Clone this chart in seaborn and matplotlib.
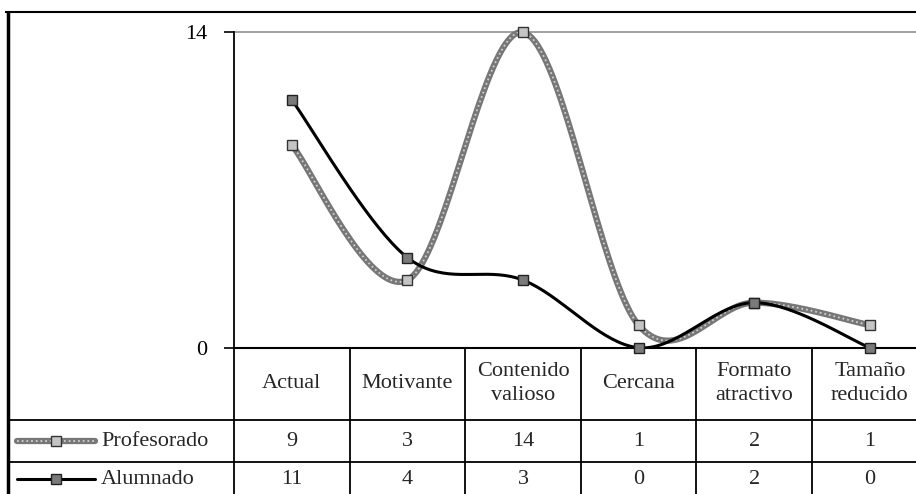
import numpy as np
import pandas as pd
import matplotlib
matplotlib.use("Agg")
import matplotlib.pyplot as plt
import seaborn as sns

# -----------------------------
# Data
# -----------------------------
categories = ["Actual", "Motivante", "Contenido\nvalioso", "Cercana",
              "Formato\natractivo", "Tamaño\nreducido"]
profesorado = [9, 3, 14, 1, 2, 1]
alumnado = [11, 4, 3, 0, 2, 0]
series_names = ["Profesorado", "Alumnado"]
y_ticks = [0, 14]

sns.set_style("white")
plt.rcParams["font.family"] = ["Liberation Serif", "DejaVu Serif"]
FS = 16


def smooth(vals, n=40):
    # Excel-like smoothed line (Catmull-Rom as cubic Bezier)
    p = np.asarray(vals, float)
    xs, ys = [], []
    t = np.linspace(0, 1, n)[:, None]
    for i in range(len(p) - 1):
        i0, i3 = max(i - 1, 0), min(i + 2, len(p) - 1)
        P = np.array([[i, p[i]],
                      [i + (i + 1 - i0) / 6, p[i] + (p[i + 1] - p[i0]) / 6],
                      [i + 1 - (i3 - i) / 6, p[i + 1] - (p[i3] - p[i]) / 6],
                      [i + 1, p[i + 1]]])
        b = ((1 - t) ** 3 * P[0] + 3 * (1 - t) ** 2 * t * P[1]
             + 3 * (1 - t) * t ** 2 * P[2] + t ** 3 * P[3])
        xs.extend(b[:, 0]); ys.extend(b[:, 1])
    return np.array(xs), np.array(ys)


# -----------------------------
# Layout (pixels)
# -----------------------------
W, H = 916, 494
col_w = 115.6
x0 = 234
y_top, y_zero, y_14 = 12, 347.7, 32.3
ymax = 14 * (y_zero - y_top) / (y_zero - y_14)

fig = plt.figure(figsize=(W / 100, H / 100), dpi=100)

bg = fig.add_axes([0, 0, 1, 1])
bg.set_xlim(0, W)
bg.set_ylim(H, 0)
bg.axis("off")

ax = fig.add_axes([x0 / W, 1 - y_zero / H, 6 * col_w / W, (y_zero - y_top) / H])
tab = fig.add_axes([x0 / W, 0, 6 * col_w / W, 1 - y_zero / H])
for a in (ax, tab):
    a.patch.set_alpha(0)

PROF_BASE, PROF_DOT = "#777777", "#cfcfcf"

# -----------------------------
# Lines
# -----------------------------
xp, yp = smooth(profesorado)
xa, ya = smooth(alumnado)
sns.lineplot(x=xp, y=yp, sort=False, estimator=None, ax=ax,
             color=PROF_BASE, lw=4.5, zorder=3)
ax.plot(xp, yp, color=PROF_DOT, lw=1.3, ls=(0, (1, 1.6)), zorder=3)
sns.lineplot(x=xa, y=ya, sort=False, estimator=None, ax=ax,
             color="black", lw=2.2, zorder=4)
idx = np.arange(len(categories))
ax.plot(idx, profesorado, ls="none", marker="s", ms=6.5,
        mfc="#c4c4c4", mec="#333333", mew=1, zorder=5, clip_on=False)
ax.plot(idx, alumnado, ls="none", marker="s", ms=6.5,
        mfc="#7a7a7a", mec="#222222", mew=1, zorder=5, clip_on=False)

ax.axhline(14, color="#9a9a9a", lw=1.3, zorder=1)
ax.set_xlim(-0.5, 5.5)
ax.set_ylim(0, ymax)
ax.set_xticks([])
ax.set_yticks(y_ticks)
ax.set_yticklabels([str(v) for v in y_ticks])
ax.tick_params(axis="y", direction="out", length=7, width=1.2, pad=12,
               labelsize=FS, colors="black", left=True)
for s in ["top", "right", "bottom"]:
    ax.spines[s].set_visible(False)
ax.spines["left"].set_bounds(0, 14)
ax.spines["left"].set_linewidth(1.3)
ax.spines["left"].set_color("black")

# -----------------------------
# Data table
# -----------------------------
tab.set_xlim(-0.5, 5.5)
tab.set_ylim(H - y_zero, 0)
tab.axis("off")
tab.vlines(idx - 0.5, 0, H - y_zero, color="black", lw=1.3, clip_on=False)
for i, c in enumerate(categories):
    tab.text(i, 36, c, ha="center", va="center", fontsize=FS, linespacing=1.35)
    tab.text(i, 94, str(profesorado[i]), ha="center", va="center", fontsize=FS)
    tab.text(i, 131.5, str(alumnado[i]), ha="center", va="center", fontsize=FS)

# frame and row lines
bg.hlines(y_top, 5, W, color="black", lw=1.5)
bg.vlines(7.5, y_top, H, color="black", lw=2.5)
bg.hlines(y_zero, x0, W, color="black", lw=1.5)
bg.hlines([420, 462], 7, W, color="black", lw=1.3)

# legend keys in table
bg.plot([17, 95], [441, 441], color=PROF_BASE, lw=4.5)
bg.plot([17, 95], [441, 441], color=PROF_DOT, lw=1.3, ls=(0, (1, 1.6)))
bg.plot([56], [441], marker="s", ms=6.5, mfc="#c4c4c4", mec="#333333", mew=1)
bg.plot([17, 95], [479, 479], color="black", lw=2.2)
bg.plot([56], [479], marker="s", ms=6.5, mfc="#7a7a7a", mec="#222222", mew=1)
bg.text(101, 441, series_names[0], ha="left", va="center", fontsize=FS)
bg.text(101, 479, series_names[1], ha="left", va="center", fontsize=FS)

fig.savefig("out.png", dpi=100)
